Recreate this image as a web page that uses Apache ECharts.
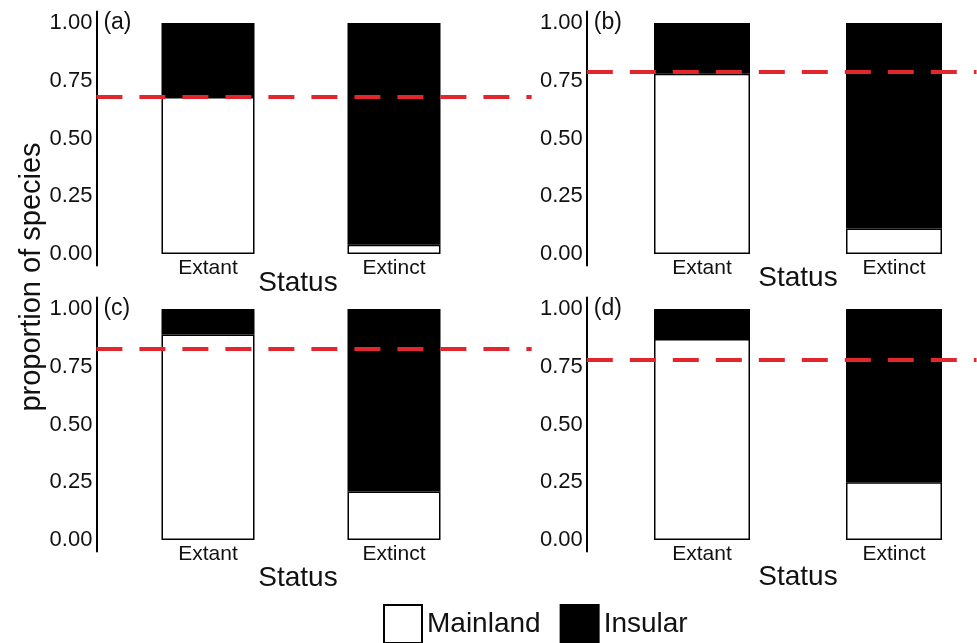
<!DOCTYPE html>
<html>
<head>
<meta charset="utf-8">
<script src="https://cdn.jsdelivr.net/npm/echarts@6/dist/echarts.min.js"></script>
<style>
html,body{margin:0;padding:0;background:#fff;}
#chart{width:977px;height:643px;}
</style>
</head>
<body>
<div id="chart"></div>
<script>
// ---- data ----
const categories = ['Extant', 'Extinct'];
const categoryPositions = [1, 2];
const panelLabels = ['(a)', '(b)', '(c)', '(d)'];
const mainland_a = [0.68, 0.04];
const insular_a  = [0.32, 0.96];
const mainland_b = [0.78, 0.11];
const insular_b  = [0.22, 0.89];
const mainland_c = [0.89, 0.21];
const insular_c  = [0.11, 0.79];
const mainland_d = [0.87, 0.25];
const insular_d  = [0.13, 0.75];
const thresholds = [0.68, 0.785, 0.835, 0.78];
const yTicks = [0, 0.25, 0.5, 0.75, 1];
const seriesNames = ['Mainland', 'Insular'];
const axisTitleX = 'Status';
const axisTitleY = 'proportion of species';

// ---- layout ----
const FONT = "'Liberation Sans', Arial, Helvetica, sans-serif";
const TXT = '#111';
const cols = [
  {x1: 208, unit: 186, statusX: 298, xMax: 2.74},
  {x1: 702, unit: 192, statusX: 798, xMax: 2.43}
];
const rows = [{y1: 23, y0: 254}, {y1: 309, y0: 540}];
const statusY = [[283, 278], [578, 577]];
const xMin = 0.4, yMin = -0.05, yMax = 1.05;

const mainland = [mainland_a, mainland_b, mainland_c, mainland_d];
const insular = [insular_a, insular_b, insular_c, insular_d];

const grids = [], xAxes = [], yAxes = [], series = [], graphics = [];
for (let p = 0; p < 4; p++) {
  const r = Math.floor(p / 2), c = p % 2;
  const col = cols[c], row = rows[r];
  const unitY = row.y0 - row.y1;
  const left = col.x1 - (1 - xMin) * col.unit;
  grids.push({
    left: left,
    top: row.y1 - (yMax - 1) * unitY,
    width: (col.xMax - xMin) * col.unit,
    height: (yMax - yMin) * unitY,
    containLabel: false
  });
  xAxes.push({
    type: 'value', gridIndex: p, min: xMin, max: col.xMax,
    axisLine: {show: false},
    axisTick: {show: false}, splitLine: {show: false},
    axisLabel: {
      customValues: categoryPositions,
      formatter: v => categories[Math.round(v) - 1],
      fontSize: 21, fontFamily: FONT, color: TXT, margin: -8
    }
  });
  yAxes.push({
    type: 'value', gridIndex: p, min: yMin, max: yMax,
    axisLine: {show: true, lineStyle: {color: '#000', width: 2}},
    axisTick: {show: false}, splitLine: {show: false},
    axisLabel: {
      customValues: yTicks,
      formatter: v => v.toFixed(2),
      fontSize: 22, fontFamily: FONT, color: TXT, margin: 4
    }
  });
  const bw = 0.5 * col.unit;
  // data stored as [value, position] so the stacked dimension is the y value
  series.push({
    name: seriesNames[0], type: 'bar', xAxisIndex: p, yAxisIndex: p,
    stack: 'p' + p, barWidth: bw,
    encode: {x: 1, y: 0},
    data: categoryPositions.map((x, i) => [mainland[p][i], x]),
    itemStyle: {color: '#fff', borderColor: '#000', borderWidth: 1.5},
    emphasis: {disabled: true}, animation: false
  });
  series.push({
    name: seriesNames[1], type: 'bar', xAxisIndex: p, yAxisIndex: p,
    stack: 'p' + p, barWidth: bw,
    encode: {x: 1, y: 0},
    data: categoryPositions.map((x, i) => [insular[p][i], x]),
    itemStyle: {color: '#000', borderColor: '#000', borderWidth: 1.5},
    emphasis: {disabled: true}, animation: false,
    markLine: {
      silent: true, symbol: ['none', 'none'], label: {show: false},
      lineStyle: {color: '#e3262b', width: 4, type: [26, 17], opacity: 1},
      data: [{yAxis: thresholds[p]}], animation: false, z: 10
    }
  });
  graphics.push({
    type: 'text', x: left + 7, y: row.y1,
    style: {text: panelLabels[p], font: '23px ' + FONT, fill: TXT, textAlign: 'left', textVerticalAlign: 'middle'}
  });
  graphics.push({
    type: 'text', x: col.statusX, y: statusY[r][c],
    style: {text: axisTitleX, font: '28px ' + FONT, fill: TXT, textAlign: 'center', textVerticalAlign: 'middle'}
  });
}
graphics.push({
  type: 'text', x: 32, y: 277, rotation: Math.PI / 2,
  style: {text: axisTitleY, font: '29px ' + FONT, fill: TXT, textAlign: 'center', textVerticalAlign: 'middle'}
});

const chart = echarts.init(document.getElementById('chart'), null, {renderer: 'canvas'});
chart.setOption({
  backgroundColor: '#fff',
  animation: false,
  grid: grids,
  xAxis: xAxes,
  yAxis: yAxes,
  series: series,
  graphic: graphics,
  legend: {
    data: seriesNames.map(n => ({name: n, icon: 'rect'})),
    left: 383, top: 604, padding: 0,
    itemWidth: 38, itemHeight: 38, itemGap: 19,
    textStyle: {fontSize: 28, fontFamily: FONT, color: TXT},
    selectedMode: false
  }
});
</script>
</body>
</html>
